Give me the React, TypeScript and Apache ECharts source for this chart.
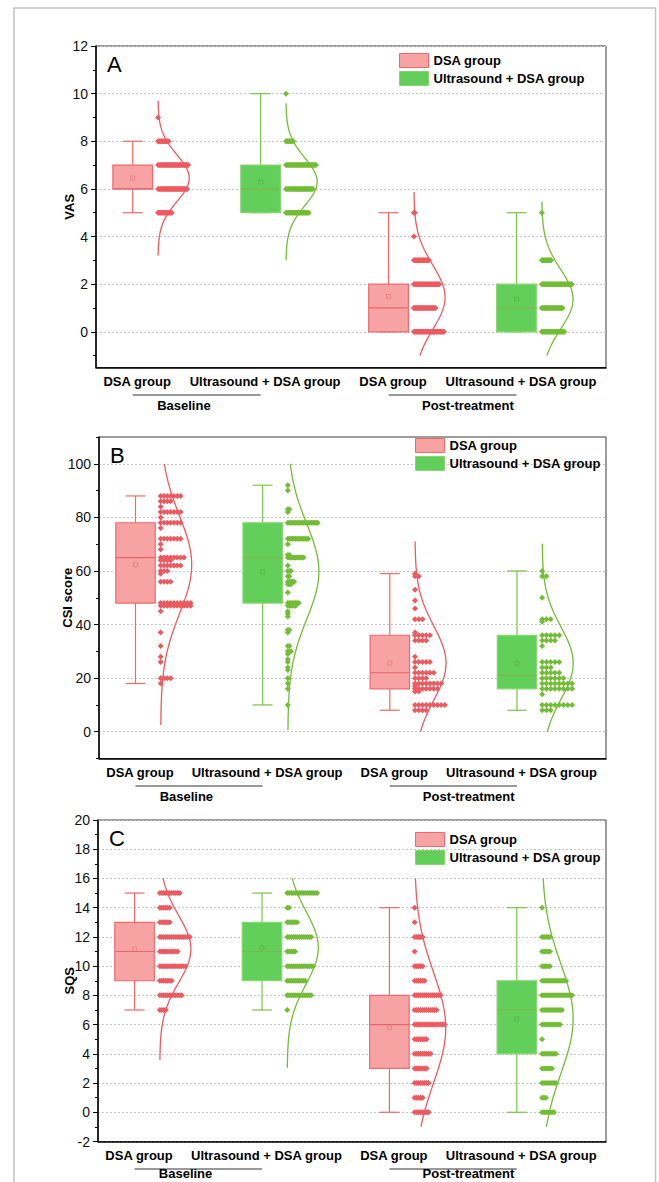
import React, { useEffect, useRef } from "react";
import * as echarts from "echarts";

// ---------- categories / labels ----------
const groupLabels = ["DSA group", "Ultrasound + DSA group", "DSA group", "Ultrasound + DSA group"];
const phaseLabels = ["Baseline", "Post-treatment"];
const seriesNames = ["DSA group", "Ultrasound + DSA group"];
const panelLetters = ["A", "B", "C"];
const axisNames = ["VAS", "CSI score", "SQS"];

// ---------- tick labels ----------
const vasTicks = [0, 2, 4, 6, 8, 10, 12];
const vasMinorTicks = [-1, 1, 3, 5, 7, 9, 11];
const csiTicks = [0, 20, 40, 60, 80, 100];
const csiMinorTicks = [-10, 10, 30, 50, 70, 90, 110];
const sqsTicks = [-2, 0, 2, 4, 6, 8, 10, 12, 14, 16, 18, 20];
const sqsMinorTicks = [-1, 1, 3, 5, 7, 9, 11, 13, 15, 17, 19];

// ---------- box statistics: [min, Q1, median, Q3, max, mean] ----------
// order: Baseline DSA, Baseline US+DSA, Post DSA, Post US+DSA
const vasBox = [
  [5, 6, 6, 7, 8, 6.45],
  [5, 5, 6, 7, 10, 6.29],
  [0, 0, 1, 2, 5, 1.49],
  [0, 0, 1, 2, 5, 1.37],
];
const csiBox = [
  [18, 48, 65, 78, 88, 62.3],
  [10, 48, 65, 78, 92, 59.7],
  [8, 16, 22, 36, 59, 25.6],
  [8, 16, 21, 36, 60, 25.6],
];
const sqsBox = [
  [7, 9, 11, 13, 15, 11.17],
  [7, 9, 11, 13, 15, 11.26],
  [0, 3, 6, 8, 14, 5.79],
  [0, 4, 7, 9, 14, 6.4],
];

// ---------- individual points: [value, count] ----------
const vasPoints = [
  [[9, 1], [8, 12], [7, 32], [6, 31], [5, 15]],
  [[10, 1], [8, 8], [7, 30], [6, 27], [5, 23]],
  [[5, 2], [4, 1], [3, 17], [2, 28], [1, 24], [0, 33]],
  [[5, 1], [3, 11], [2, 33], [1, 23], [0, 25]],
];
const csiPoints = [
  [[88, 7], [86, 4], [84, 1], [82, 7], [80, 1], [78, 7], [76, 1], [72, 7], [70, 1], [68, 1], [65, 8], [64, 4], [62, 7], [60, 3], [59, 1], [56, 4], [48, 10], [47, 10], [45, 1], [37, 1], [32, 1], [28, 1], [26, 1], [20, 4], [18, 1]],
  [[92, 1], [90, 1], [83, 2], [82, 1], [78, 20], [72, 14], [70, 1], [66, 2], [65, 11], [62, 1], [60, 3], [58, 2], [56, 5], [55, 3], [52, 1], [48, 8], [47, 6], [45, 1], [44, 1], [43, 1], [38, 2], [37, 1], [32, 2], [30, 3], [29, 1], [27, 1], [26, 1], [24, 1], [23, 1], [20, 1], [18, 1], [16, 1], [10, 1]],
  [[59, 1], [58, 2], [53, 1], [49, 1], [46, 1], [42, 3], [37, 1], [36, 5], [34, 4], [28, 1], [26, 5], [24, 1], [22, 6], [20, 4], [18, 8], [17, 1], [16, 7], [15, 2], [10, 9], [8, 4]],
  [[60, 1], [58, 2], [50, 1], [42, 3], [41, 1], [36, 5], [34, 4], [32, 1], [26, 5], [24, 3], [22, 5], [20, 6], [18, 8], [16, 8], [14, 1], [10, 8], [8, 3]],
];
const sqsPoints = [
  [[15, 11], [14, 6], [13, 6], [12, 16], [11, 10], [10, 14], [9, 7], [8, 12], [7, 4]],
  [[15, 16], [14, 2], [13, 6], [12, 13], [11, 5], [10, 14], [9, 10], [8, 13], [7, 1]],
  [[14, 1], [13, 1], [12, 5], [11, 1], [10, 5], [9, 6], [8, 14], [7, 12], [6, 16], [5, 7], [4, 9], [3, 7], [2, 8], [1, 5], [0, 8]],
  [[14, 1], [12, 5], [11, 5], [10, 5], [9, 13], [8, 16], [7, 11], [6, 10], [5, 1], [4, 8], [3, 6], [2, 8], [1, 3], [0, 7]],
];

// ---------- fitted normal curves: [mean, sd, from, to] ----------
const vasCurve = [
  [6.45, 0.98, 3.2, 9.7],
  [6.3, 1.0, 3.0, 9.6],
  [1.45, 1.35, -1.0, 5.87],
  [1.37, 1.25, -1.0, 5.46],
];
const csiCurve = [
  [62.3, 18.3, 2.5, 100],
  [59.8, 17.9, 0.6, 100],
  [25.6, 13.8, 0, 71],
  [25.6, 13.5, 0, 70.2],
];
const sqsCurve = [
  [11.17, 2.3, 3.58, 16],
  [11.26, 2.49, 3.05, 16],
  [5.79, 3.8, -1, 16],
  [6.4, 3.75, -1, 16],
];

// ---------- layout / style constants ----------
const FONT = "'Liberation Sans', Arial, Helvetica, sans-serif";
const XMIN = 0.713;
const XMAX = 4.7;
const BOX_W = 0.31;
const CAP_W = 0.156;
const BASE = 0.198;
const PEAK_W = 0.244;
const PTS_W = 0.235;
const GRID_RIGHT = 606;
const GRID_H = 321.5;

const RED_FILL = "#F8A3A3";
const RED_EDGE = "#EC6A6C";
const RED_PT = "#EC5A60";
const RED_MED = "#E56668";
const RED_MEAN = "#E77C7C";
const GREEN_FILL = "#63CF5B";
const GREEN_EDGE = "#8AD572";
const GREEN_WHISK = "#7CC44A";
const GREEN_PT = "#73BC36";
const GREEN_MED = "#80B848";
const GREEN_MEAN = "#58B04C";

const panels = [
  { box: vasBox, pts: vasPoints, curve: vasCurve, ticks: vasTicks, minor: vasMinorTicks, min: -1.5, max: 12, top: 46, left: 96, nameGap: 20, legend: [399, 53] },
  { box: csiBox, pts: csiPoints, curve: csiCurve, ticks: csiTicks, minor: csiMinorTicks, min: -10, max: 110, top: 437, left: 99, nameGap: 25, legend: [415, 438] },
  { box: sqsBox, pts: sqsPoints, curve: sqsCurve, ticks: sqsTicks, minor: sqsMinorTicks, min: -2, max: 20, top: 820, left: 98, nameGap: 22, legend: [415, 832] },
];

function dotPoints(g: number, rows: number[][]) {
  const maxC = Math.max(...rows.map((r) => r[1]));
  const step = maxC > 1 ? PTS_W / (maxC - 1) : 0;
  const out: number[][] = [];
  rows.forEach(([v, c]) => {
    for (let i = 0; i < c; i++) out.push([g + 1 + BASE + i * step, v]);
  });
  return out;
}

function curvePoints(g: number, params: number[]) {
  const [mean, sd, lo, hi] = params;
  const out: number[][] = [];
  const N = 140;
  for (let k = 0; k <= N; k++) {
    const v = lo + ((hi - lo) * k) / N;
    out.push([g + 1 + BASE + PEAK_W * Math.exp(-((v - mean) ** 2) / (2 * sd * sd)), v]);
  }
  return out;
}

function boxRenderer(fill: string, edge: string, whisk: string, med: string, meanC: string) {
  return (params: any, api: any) => {
    const x = api.value(0);
    const c = (v: number) => api.coord([x, v]);
    const pMin = c(api.value(1));
    const pQ1 = c(api.value(2));
    const pMed = c(api.value(3));
    const pQ3 = c(api.value(4));
    const pMax = c(api.value(5));
    const pMean = c(api.value(6));
    const cx = pMin[0];
    const hw = api.size([BOX_W, 0])[0] / 2;
    const hc = api.size([CAP_W, 0])[0] / 2;
    const lw = 1.2;
    const ln = (x1: number, y1: number, x2: number, y2: number, color: string) => ({
      type: "line",
      shape: { x1, y1, x2, y2 },
      style: { stroke: color, lineWidth: lw },
    });
    return {
      type: "group",
      children: [
        ln(cx, pMax[1], cx, pQ3[1], whisk),
        ln(cx, pQ1[1], cx, pMin[1], whisk),
        ln(cx - hc, pMax[1], cx + hc, pMax[1], whisk),
        ln(cx - hc, pMin[1], cx + hc, pMin[1], whisk),
        {
          type: "rect",
          shape: { x: cx - hw, y: pQ3[1], width: 2 * hw, height: pQ1[1] - pQ3[1] },
          style: { fill, stroke: edge, lineWidth: lw },
        },
        ln(cx - hw, pMed[1], cx + hw, pMed[1], med),
        {
          type: "rect",
          shape: { x: cx - 2, y: pMean[1] - 2, width: 4, height: 4 },
          style: { fill: "none", stroke: meanC, lineWidth: 0.8 },
        },
      ],
    };
  };
}

function buildOption() {
  const grid: any[] = [];
  const xAxis: any[] = [];
  const yAxis: any[] = [];
  const series: any[] = [];
  const legend: any[] = [];
  const graphic: any[] = [];

  graphic.push({
    type: "rect",
    shape: { x: 14, y: 8, width: 641.5, height: 1200 },
    style: { fill: "none", stroke: "#C4C4C4", lineWidth: 1.5 },
    silent: true,
  });

  panels.forEach((p, pi) => {
    const width = GRID_RIGHT - p.left;
    grid.push({
      left: p.left,
      top: p.top,
      width,
      height: GRID_H,
      show: true,
      borderColor: "#3A3A3A",
      borderWidth: 1,
      backgroundColor: "transparent",
    });
    xAxis.push({
      gridIndex: pi,
      type: "value",
      min: XMIN,
      max: XMAX,
      axisLine: { show: true, onZero: false, lineStyle: { color: "#000", width: 1.5 } },
      axisTick: { show: false },
      splitLine: { show: false },
      axisLabel: {
        customValues: [1.035, 2.035, 3.035, 4.035],
        formatter: (v: number) => groupLabels[Math.round(v) - 1],
        fontFamily: FONT,
        fontWeight: "bold",
        fontSize: 13,
        color: "#000",
        margin: 7,
      },
    });
    yAxis.push({
      gridIndex: pi,
      type: "value",
      position: "left",
      min: p.min,
      max: p.max,
      name: axisNames[pi],
      nameLocation: "middle",
      nameGap: p.nameGap,
      nameMoveOverlap: false,
      nameTextStyle: { fontFamily: FONT, fontWeight: "bold", fontSize: 13, color: "#000" },
      axisLine: { show: true, onZero: false, lineStyle: { color: "#000", width: 1.5 } },
      axisTick: { show: true, customValues: p.ticks, length: 5, lineStyle: { color: "#000", width: 1 } },
      axisLabel: { customValues: p.ticks, fontFamily: FONT, fontSize: 14, color: "#111", margin: 8 },
      splitLine: { show: true, lineStyle: { color: "#C4C4C4", width: 1, type: [2, 2] } },
    });
    yAxis.push({
      gridIndex: pi,
      type: "value",
      position: "left",
      offset: 0,
      min: p.min,
      max: p.max,
      axisLine: { show: false, onZero: false },
      axisTick: { show: true, customValues: p.minor, length: 3, lineStyle: { color: "#000", width: 1 } },
      axisLabel: { show: false },
      splitLine: { show: false },
    });
    const yi = pi * 2;

    // boxes
    [0, 1].forEach((k) => {
      const gs = k === 0 ? [0, 2] : [1, 3];
      series.push({
        type: "custom",
        name: seriesNames[k],
        xAxisIndex: pi,
        yAxisIndex: yi,
        z: 2,
        silent: true,
        itemStyle: {
          color: k === 0 ? RED_FILL : GREEN_FILL,
          borderColor: k === 0 ? RED_EDGE : GREEN_EDGE,
          borderWidth: 1,
        },
        renderItem:
          k === 0
            ? boxRenderer(RED_FILL, RED_EDGE, RED_EDGE, RED_MED, RED_MEAN)
            : boxRenderer(GREEN_FILL, GREEN_EDGE, GREEN_WHISK, GREEN_MED, GREEN_MEAN),
        data: gs.map((g) => [g + 1, ...p.box[g]]),
      });
    });

    // points and curves
    [0, 1, 2, 3].forEach((g) => {
      const red = g % 2 === 0;
      series.push({
        type: "scatter",
        name: (red ? "DSA" : "US+DSA") + " points " + g,
        xAxisIndex: pi,
        yAxisIndex: yi,
        z: 3,
        silent: true,
        symbol: "diamond",
        symbolSize: 6,
        itemStyle: { color: red ? RED_PT : GREEN_PT, opacity: 1 },
        data: dotPoints(g, p.pts[g]),
      });
      series.push({
        type: "line",
        name: (red ? "DSA" : "US+DSA") + " curve " + g,
        xAxisIndex: pi,
        yAxisIndex: yi,
        z: 4,
        silent: true,
        showSymbol: false,
        symbol: "none",
        smooth: false,
        lineStyle: { color: red ? RED_PT : GREEN_PT, width: 1.3 },
        data: curvePoints(g, p.curve[g]),
      });
    });

    legend.push({
      orient: "vertical",
      left: p.legend[0],
      top: p.legend[1],
      itemWidth: 29,
      itemHeight: 14,
      itemGap: 3,
      icon: "rect",
      selectedMode: false,
      padding: 0,
      textStyle: { fontFamily: FONT, fontWeight: "bold", fontSize: 13, color: "#000", lineHeight: 14 },
      data: seriesNames.map((n, k) => ({
        name: n,
        icon: "rect",
        itemStyle: {
          color: k === 0 ? RED_FILL : GREEN_FILL,
          borderColor: k === 0 ? RED_EDGE : GREEN_EDGE,
          borderWidth: 1,
        },
      })),
    });

    // panel letter
    graphic.push({
      type: "text",
      x: p.left + 11,
      y: p.top + 7,
      silent: true,
      style: { text: panelLetters[pi], fontFamily: FONT, fontSize: 22, fill: "#000" },
    });

    // group (phase) lines and labels
    const px = (x: number) => p.left + ((x - XMIN) / (XMAX - XMIN)) * width;
    const bottom = p.top + GRID_H;
    const textY = Math.min(bottom + 38, 1173);
    [
      [1, 2, 1.4],
      [3, 4, 3.62],
    ].forEach(([a, b, mid], k) => {
      graphic.push({
        type: "line",
        silent: true,
        shape: { x1: px(a), y1: bottom + 27.5, x2: px(b), y2: bottom + 27.5 },
        style: { stroke: "#333", lineWidth: 1 },
      });
      graphic.push({
        type: "text",
        silent: true,
        x: px(mid),
        y: textY,
        style: {
          text: phaseLabels[k],
          fontFamily: FONT,
          fontWeight: "bold",
          fontSize: 13,
          fill: "#000",
          align: "center",
          verticalAlign: "middle",
        },
      });
    });
  });

  return {
    animation: false,
    backgroundColor: "#fff",
    grid,
    xAxis,
    yAxis,
    legend,
    series,
    graphic,
  };
}

export default function App() {
  const ref = useRef<HTMLDivElement>(null);
  useEffect(() => {
    if (!ref.current) return;
    const chart = echarts.init(ref.current, null, { renderer: "svg" });
    chart.setOption(buildOption() as any);
    return () => chart.dispose();
  }, []);
  return (
    <div
      ref={ref}
      style={{ position: "absolute", left: 0, top: 0, width: 659, height: 1182, background: "#fff" }}
    />
  );
}
